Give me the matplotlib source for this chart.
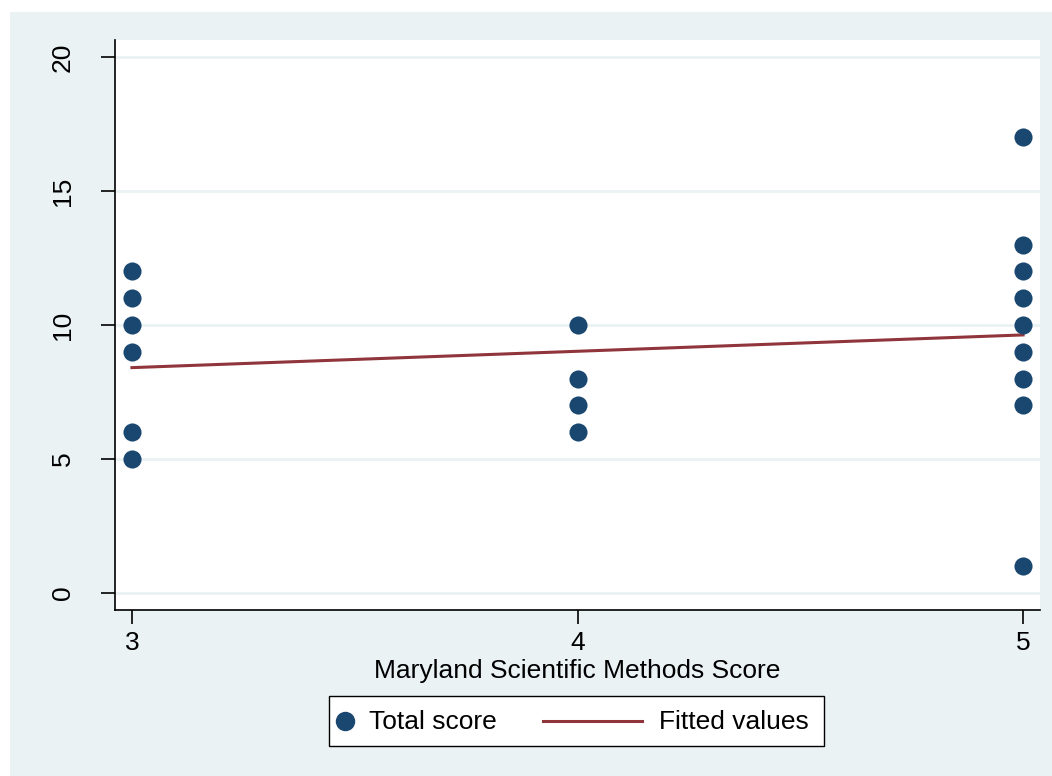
import matplotlib
matplotlib.use("Agg")
import matplotlib.pyplot as plt
from matplotlib.patches import Rectangle
from matplotlib.lines import Line2D

plt.rcParams['font.family'] = ['Liberation Sans', 'DejaVu Sans']

# Observations: Maryland SMS score vs total score
sms_score = [3, 3, 3, 3, 3, 3,
             4, 4, 4, 4,
             5, 5, 5, 5, 5, 5, 5, 5, 5]
total_score = [12, 11, 10, 9, 6, 5,
               10, 8, 7, 6,
               17, 13, 12, 11, 10, 9, 8, 7, 1]

# Linear fit evaluated at the ends of the x range
fit_x = [3, 5]
fit_y = [8.41, 9.63]

x_ticks = [3, 4, 5]
y_ticks = [0, 5, 10, 15, 20]
legend_labels = ['Total score', 'Fitted values']

navy = '#1a476f'
maroon = '#90353b'
panel = '#eaf2f3'
W, H = 1052, 776
FS = 19


def fx(px):
    return px / W


def fy(py):
    return 1 - py / H


fig = plt.figure(figsize=(W / 100, H / 100), dpi=100)
fig.patch.set_facecolor('white')

# Light outer panel behind everything
bg = fig.add_axes([0, 0, 1, 1], zorder=-1)
bg.set_axis_off()
bg.add_patch(Rectangle((fx(10), 0), 1 - fx(10), fy(12),
                       transform=fig.transFigure, facecolor=panel,
                       edgecolor='none'))

ax = fig.add_axes([fx(115), fy(610), fx(1040) - fx(115), fy(40) - fy(610)])
ax.set_facecolor('white')

ax.scatter(sms_score, total_score, s=170, color=navy, zorder=3, linewidths=0)
ax.plot(fit_x, fit_y, color=maroon, lw=2.2, zorder=2)

ax.set_xlim(2.962, 5.038)
ax.set_ylim(-0.63, 20.63)
ax.set_xticks(x_ticks)
ax.set_yticks(y_ticks)
ax.set_yticklabels([str(v) for v in y_ticks], rotation=90, va='center')
ax.tick_params(axis='both', length=10, width=1.2, color='black',
               labelsize=FS, pad=5)
ax.tick_params(axis='y', pad=19)

ax.yaxis.grid(True, color=panel, lw=2)
ax.set_axisbelow(True)
for side in ('top', 'right'):
    ax.spines[side].set_visible(False)
for side in ('left', 'bottom'):
    ax.spines[side].set_linewidth(1.2)
    ax.spines[side].set_color('black')

ax.set_xlabel('Maryland Scientific Methods Score', fontsize=FS, labelpad=3)

# Legend box drawn in figure coordinates
box = Rectangle((fx(329), fy(746)), fx(824) - fx(329), fy(696) - fy(746),
                transform=fig.transFigure, facecolor='white',
                edgecolor='black', lw=1.0)
bg.add_patch(box)
bg.add_line(Line2D([fx(345)], [fy(721)], marker='o', markersize=13,
                   color=navy, linestyle='none', transform=fig.transFigure))
bg.text(fx(369), fy(722), legend_labels[0], fontsize=FS, va='center',
        ha='left', transform=fig.transFigure)
bg.add_line(Line2D([fx(543), fx(642)], [fy(721), fy(721)], color=maroon,
                   lw=2.2, transform=fig.transFigure))
bg.text(fx(659), fy(722), legend_labels[1], fontsize=FS, va='center',
        ha='left', transform=fig.transFigure)

fig.savefig('out.png', dpi=100, facecolor=fig.get_facecolor())
